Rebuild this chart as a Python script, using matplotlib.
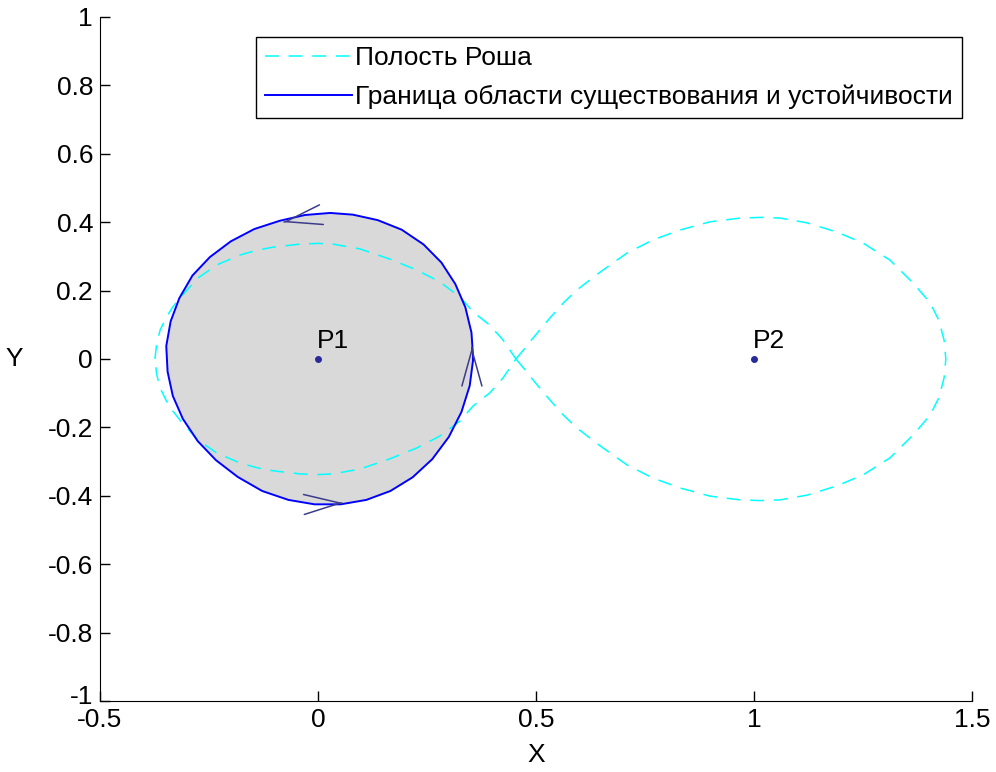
import matplotlib
matplotlib.use('Agg')
import matplotlib.pyplot as plt
import matplotlib.transforms as mtransforms
import numpy as np

plt.rcParams['font.family'] = ['Liberation Sans', 'DejaVu Sans']
plt.rcParams['lines.scale_dashes'] = False

# Roche lobe, upper halves (lower halves are mirrored)
roche_right_x = [0.454, 0.475, 0.493, 0.532, 0.562, 0.594, 0.647, 0.709, 0.768, 0.830, 0.899,
                 0.968, 1.015, 1.060, 1.122, 1.190, 1.250, 1.312, 1.365, 1.404, 1.424,
                 1.436, 1.440]
roche_right_y = [0.0, 0.032, 0.061, 0.120, 0.163, 0.202, 0.254, 0.310, 0.348, 0.377, 0.401,
                 0.412, 0.414, 0.412, 0.398, 0.371, 0.339, 0.289, 0.222, 0.164, 0.113,
                 0.055, 0.0]
roche_left_x = [-0.374, -0.370, -0.362, -0.348, -0.333, -0.317, -0.275, -0.232, -0.179,
                -0.140, -0.103, -0.041, 0.000, 0.034, 0.096, 0.165, 0.227, 0.280, 0.326,
                0.356, 0.394, 0.424, 0.454]
roche_left_y = [0.0, 0.045, 0.085, 0.122, 0.152, 0.178, 0.237, 0.275, 0.304,
                0.318, 0.327, 0.336, 0.338, 0.336, 0.322, 0.292, 0.260, 0.225, 0.181,
                0.137, 0.099, 0.056, 0.0]

# boundary of the existence/stability region (closed, counter-clockwise)
bound_x = [0.356, 0.352, 0.338, 0.315, 0.283, 0.242, 0.192, 0.137, 0.080, 0.028,
           -0.030, -0.088, -0.146, -0.200, -0.248, -0.288, -0.318, -0.338, -0.348,
           -0.345, -0.333, -0.310, -0.276, -0.234, -0.184, -0.128, -0.068, -0.008, 0.052,
           0.111, 0.166, 0.217, 0.262, 0.300, 0.329, 0.348, 0.356]
bound_y = [0.0, 0.077, 0.151, 0.219, 0.282, 0.335, 0.378, 0.406, 0.422, 0.427,
           0.421, 0.404, 0.380, 0.344, 0.298, 0.244, 0.178, 0.110, 0.038,
           -0.037, -0.108, -0.175, -0.240, -0.296, -0.345, -0.386, -0.412, -0.425, -0.425,
           -0.412, -0.386, -0.346, -0.293, -0.228, -0.155, -0.078, 0.0]

# direction arrows on the boundary: tip and direction
arrow_x = [-0.080, 0.353, 0.057]
arrow_y = [0.400, 0.035, -0.421]
arrow_dx = [-1.0, 0.0, 1.0]
arrow_dy = [-0.25, 1.0, 0.05]

# primaries
point_x = [0, 1]
point_y = [0, 0]
point_names = ['P1', 'P2']

fig = plt.figure(figsize=(9.96, 7.72), dpi=100)
ax = fig.add_axes([0.1004, 0.092, 0.8755, 0.886])

ax.fill(bound_x, bound_y, color='#d9d9d9', lw=0, zorder=1)

rx = np.concatenate([roche_right_x, roche_right_x[::-1]])
ry = np.concatenate([roche_right_y, -np.array(roche_right_y[::-1])])
lx = np.concatenate([roche_left_x, roche_left_x[::-1]])
ly = np.concatenate([roche_left_y, -np.array(roche_left_y[::-1])])
ax.plot(lx, ly, color='#00ffff', lw=1.1, dashes=(10, 7), zorder=2, label='Полость Роша')
ax.plot(rx, ry, color='#00ffff', lw=1.1, dashes=(10, 7), zorder=2)

ax.plot(bound_x, bound_y, color='#0000ff', lw=1.4, zorder=3,
        label='Граница области существования и устойчивости')

for x, y, u, v in zip(arrow_x, arrow_y, arrow_dx, arrow_dy):
    n = np.hypot(u, v)
    ax.annotate('', xy=(x, y), xytext=(x - 0.002 * u / n, y - 0.002 * v / n),
                arrowprops=dict(arrowstyle='->, head_length=2.6, head_width=0.72',
                                color='#3c3c8c', lw=1.1, mutation_scale=10,
                                shrinkA=0, shrinkB=0), zorder=4)

ax.plot(point_x, point_y, 'o', color='#2a2a9a', ms=4, zorder=5)
for x, y, name in zip(point_x, point_y, point_names):
    ax.annotate(name, (x, y), xytext=(-1, 4), textcoords='offset points',
                fontsize=19, ha='left', va='bottom', zorder=6)

ax.set_xlim(-0.5, 1.5)
ax.set_ylim(-1, 1)
ax.set_xticks([-0.5, 0, 0.5, 1, 1.5])
ax.set_xticklabels(['-0.5', '0', '0.5', '1', '1.5'])
ax.set_yticks([-1, -0.8, -0.6, -0.4, -0.2, 0, 0.2, 0.4, 0.6, 0.8, 1])
ax.set_yticklabels(['-1', '-0.8', '-0.6', '-0.4', '-0.2', '0', '0.2', '0.4', '0.6', '0.8', '1'])
ax.spines['top'].set_visible(False)
ax.spines['right'].set_visible(False)
ax.tick_params(direction='in', length=7, width=1, labelsize=19, pad=5)
ax.set_xlabel('X', fontsize=19, labelpad=8)
ax.set_ylabel('Y', fontsize=19, rotation=0, labelpad=24, va='center')

# lift the bottom "-1" a little so it does not sit on "-0.5"
lab = ax.get_yticklabels()[0]
lab.set_transform(lab.get_transform() + mtransforms.ScaledTranslation(0, 6 / 100, fig.dpi_scale_trans))

leg = ax.legend(loc='upper right', bbox_to_anchor=(0.9885, 0.971), fontsize=19,
                frameon=True, fancybox=False, framealpha=1, edgecolor='black',
                handlelength=3.3, handletextpad=0.1, labelspacing=0.55, borderpad=0.35,
                borderaxespad=0)
leg.get_frame().set_linewidth(1)

fig.savefig('out.png', dpi=100)
